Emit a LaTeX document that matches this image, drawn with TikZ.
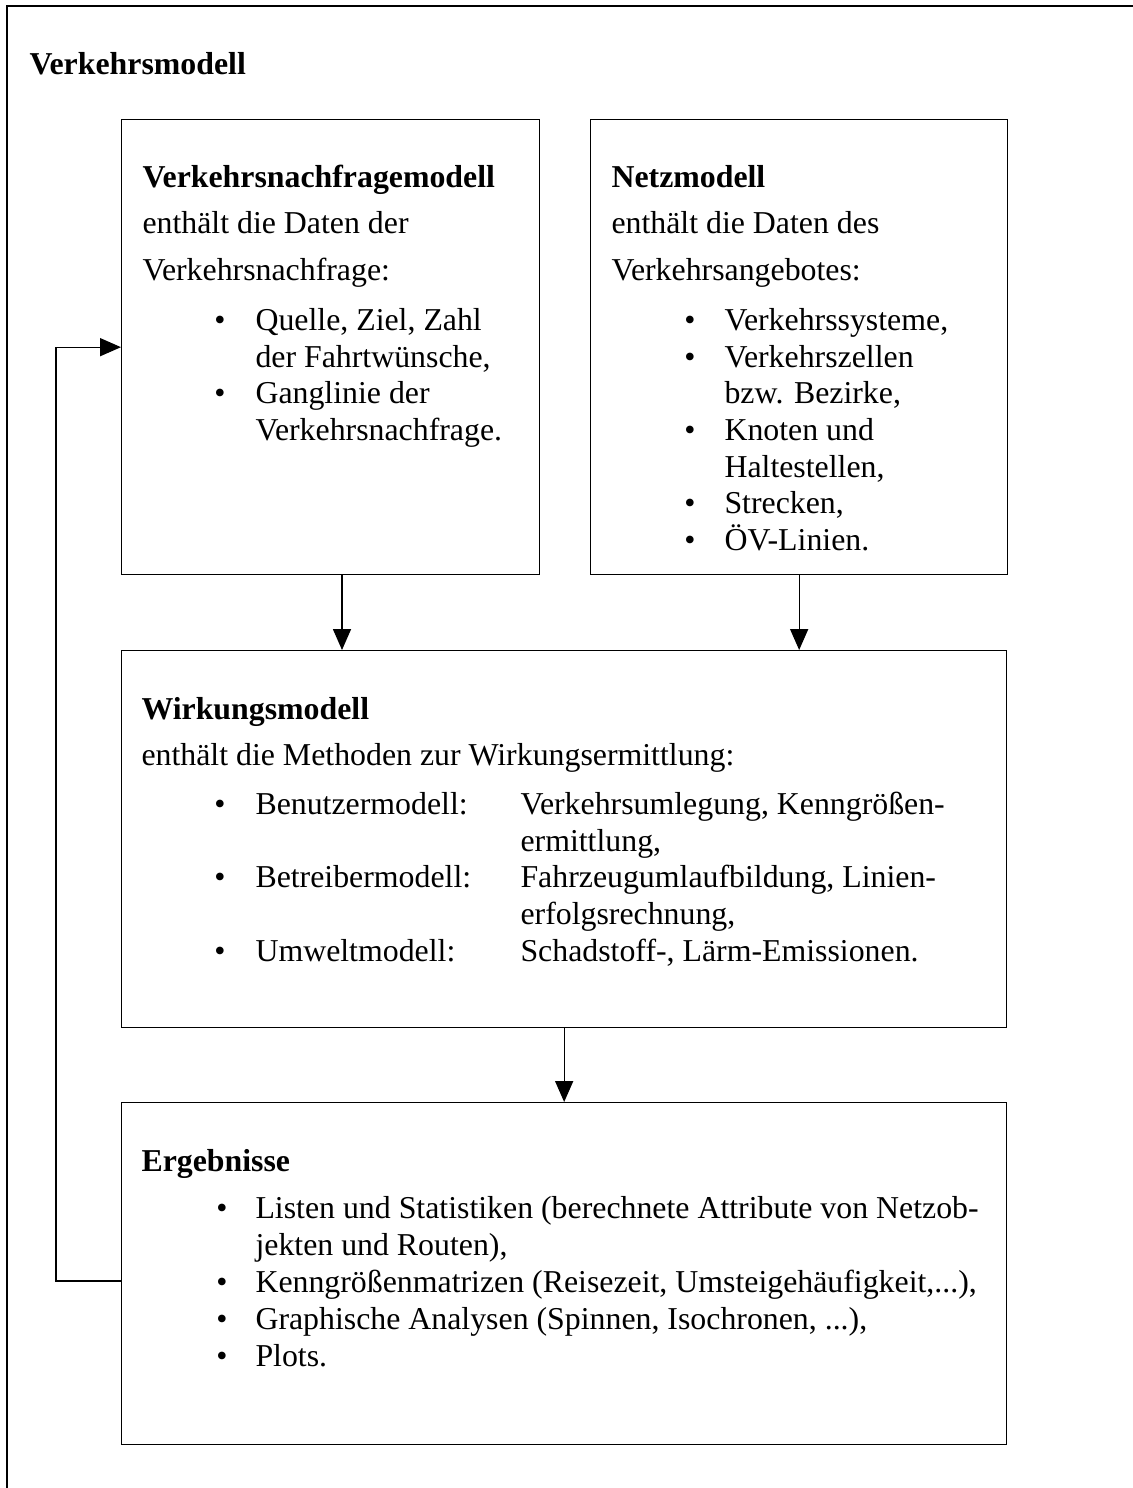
\documentclass[tikz,border=0pt]{standalone}
\usepackage{fontspec}
\setmainfont{Liberation Serif}
\usetikzlibrary{arrows.meta}

\begin{document}
\begin{tikzpicture}[
  x=0.377pt,
  y=-0.377pt,
  line join=miter,
  frame/.style={draw=black,line width=0.5pt},
  modelbox/.style 2 args={draw=black,line width=0.5pt,inner sep=0pt,anchor=north west,
    minimum width=#1*0.377pt,minimum height=#2*0.377pt},
  txt/.style={inner sep=0pt,anchor=base west,font=\fontsize{12}{14}\selectfont},
  head/.style={txt,font=\fontsize{12}{14}\selectfont\bfseries},
  dot/.style={inner sep=0pt,anchor=base,font=\fontsize{12}{14}\selectfont},
  flow/.style={draw=black,line width=0.5pt,-{Triangle[length=7.9pt,width=6.8pt]}}
]
  \useasboundingbox (0,0) rectangle (1133,1488);

  % Outer frame of the whole model, open to the right and the bottom.
  \draw[frame] (7,1488) -- (7,6) -- (1133,6);
  \node[head] (title) at (29,74) {Verkehrsmodell};

  % The four sub-models.
  \node[modelbox={418}{455}] (demand) at (121,119) {};
  \node[modelbox={417}{455}] (network) at (590,119) {};
  \node[modelbox={885}{377}] (effect) at (121,650) {};
  \node[modelbox={885}{342}] (results) at (121,1102) {};

  % Demand model text.
  \node[head] (demandHead) at (142,187) {Verkehrsnachfragemodell};
  \node[txt] (demandText1) at (142,233) {enthält die Daten der};
  \node[txt] (demandText2) at (142,280) {Verkehrsnachfrage:};
  \foreach \y/\entry [count=\i] in {330/{Quelle, Ziel, Zahl},367/{der Fahrtwünsche,},
                                   403/{Ganglinie der},440/{Verkehrsnachfrage.}} {
    \node[txt] (demandItem\i) at (255,\y) {\entry};
  }
  \foreach \y [count=\i] in {330,403} {
    \node[dot] (demandDot\i) at (220,\y) {\textbullet};
  }

  % Network model text.
  \node[head] (networkHead) at (611,187) {Netzmodell};
  \node[txt] (networkText1) at (611,233) {enthält die Daten des};
  \node[txt] (networkText2) at (611,280) {Verkehrsangebotes:};
  \foreach \y/\entry [count=\i] in {330/{Verkehrssysteme,},367/{Verkehrszellen},
                                   403/{bzw. Bezirke,},440/{Knoten und},477/{Haltestellen,},
                                   513/{Strecken,},550/{ÖV-Linien.}} {
    \node[txt] (networkItem\i) at (724,\y) {\entry};
  }
  \foreach \y [count=\i] in {330,367,440,513,550} {
    \node[dot] (networkDot\i) at (690,\y) {\textbullet};
  }

  % Effect model text, bullet labels and a second column.
  \node[head] (effectHead) at (141,719) {Wirkungsmodell};
  \node[txt] (effectText1) at (141,765) {enthält die Methoden zur Wirkungsermittlung:};
  \foreach \y/\entry [count=\i] in {814/{Benutzermodell:},887/{Betreibermodell:},
                                   961/{Umweltmodell:}} {
    \node[dot] (effectDot\i) at (220,\y) {\textbullet};
    \node[txt] (effectItem\i) at (255,\y) {\entry};
  }
  \foreach \y/\entry [count=\i] in {814/{Verkehrsumlegung, Kenngrößen-},851/{ermittlung,},
                                   887/{Fahrzeugumlaufbildung, Linien-},924/{erfolgsrechnung,},
                                   961/{Schadstoff-, Lärm-Emissionen.}} {
    \node[txt] (effectNote\i) at (520,\y) {\entry};
  }

  % Results text.
  \node[head] (resultsHead) at (141,1171) {Ergebnisse};
  \foreach \y/\entry [count=\i] in {1218/{Listen und Statistiken (berechnete Attribute von Netzob-},
                                   1255/{jekten und Routen),},
                                   1292/{Kenngrößenmatrizen (Reisezeit, Umsteigehäufigkeit,...),},
                                   1329/{Graphische Analysen (Spinnen, Isochronen, ...),},
                                   1366/{Plots.}} {
    \node[txt] (resultsItem\i) at (255,\y) {\entry};
  }
  \foreach \y [count=\i] in {1218,1292,1329,1366} {
    \node[dot] (resultsDot\i) at (222,\y) {\textbullet};
  }

  % Flow between the models, with the feedback loop on the left.
  \coordinate (demandDrop) at (342,574);
  \draw[flow] (demandDrop) -- (demandDrop |- effect.north);
  \draw[flow] (network.south) -- (effect.north -| network.south);
  \draw[flow] (effect.south) -- (results.north);
  \coordinate (resultsOut) at (121,1281);
  \draw[flow] (resultsOut) -- ++(-65,0) |- (demand.west);
\end{tikzpicture}
\end{document}
